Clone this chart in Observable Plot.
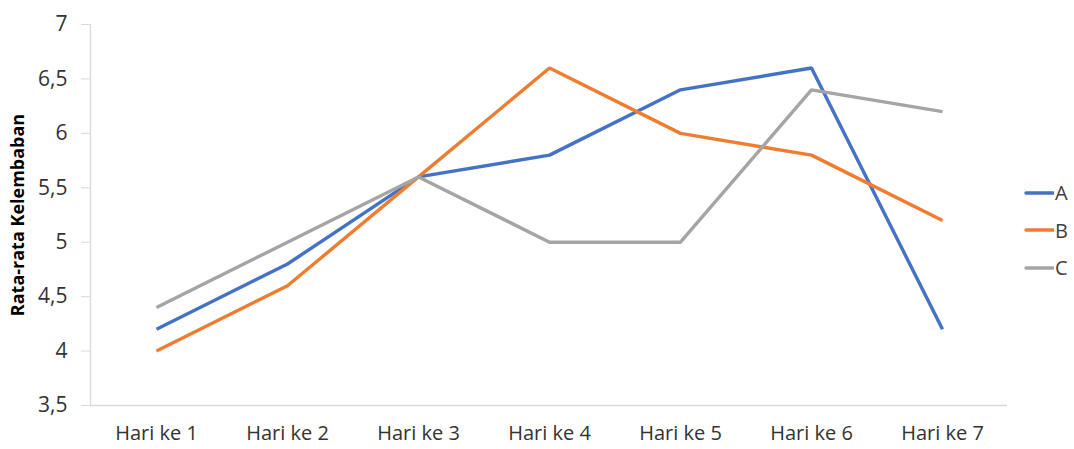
<!DOCTYPE html>
<html>
<head>
<meta charset="utf-8">
<script src="https://cdn.jsdelivr.net/npm/d3@7"></script>
<script src="https://cdn.jsdelivr.net/npm/@observablehq/plot@0.6"></script>
<style>
  body { margin: 0; background: #fff; font-family: "Open Sans", sans-serif; }
  #wrap { position: relative; width: 1074px; height: 449px; }
  #legend { position: absolute; left: 1024px; top: 174px; font-size: 20px; color: #404040; }
  #legend div { display: flex; align-items: center; height: 37.5px; }
  #legend svg { margin-right: 1px; }
</style>
</head>
<body>
<div id="wrap"><div id="chart"></div><div id="legend"></div></div>
<script>
// Average humidity per day for three treatments
const days = ["Hari ke 1", "Hari ke 2", "Hari ke 3", "Hari ke 4", "Hari ke 5", "Hari ke 6", "Hari ke 7"];
const seriesA = [4.2, 4.8, 5.6, 5.8, 6.4, 6.6, 4.2];
const seriesB = [4.0, 4.6, 5.6, 6.6, 6.0, 5.8, 5.2];
const seriesC = [4.4, 5.0, 5.6, 5.0, 5.0, 6.4, 6.2];
const seriesNames = ["A", "B", "C"];
const seriesColors = ["#4472C4", "#ED7D31", "#A5A5A5"];
const yTicks = [3.5, 4, 4.5, 5, 5.5, 6, 6.5, 7];

const rows = [];
[seriesA, seriesB, seriesC].forEach((vals, i) => {
  vals.forEach((v, j) => rows.push({day: days[j], value: v, series: seriesNames[i]}));
});

const chart = Plot.plot({
  width: 1074,
  height: 449,
  marginLeft: 90,
  marginRight: 67,
  marginTop: 24,
  marginBottom: 44,
  style: {fontFamily: "Open Sans, sans-serif", fontSize: "20px", color: "#333", background: "#fff"},
  x: {type: "point", domain: days, padding: 0.5},
  y: {domain: [3.5, 7]},
  color: {domain: seriesNames, range: seriesColors},
  marks: [
    Plot.frame({anchor: "left", stroke: "#d9d9d9", strokeWidth: 1.3}),
    Plot.ruleY([3.5], {stroke: "#d9d9d9", strokeWidth: 1.3}),
    Plot.axisY({
      ticks: yTicks,
      tickSize: 9,
      tickPadding: 14,
      stroke: "#d9d9d9",
      fontSize: 21,
      tickFormat: d => String(d).replace(".", ","),
      label: null
    }),
    Plot.text(["Rata-rata Kelembaban"], {
      frameAnchor: "left",
      textAnchor: "middle",
      dx: -72,
      rotate: -90,
      fontWeight: "bold",
      fontSize: 18,
      fill: "#000"
    }),
    Plot.axisX({tickSize: 0, tickPadding: 20, fontSize: 20, label: null}),
    Plot.line(rows, {x: "day", y: "value", stroke: "series", strokeWidth: 3.4, strokeLinejoin: "miter", strokeLinecap: "butt"})
  ]
});
document.getElementById("chart").append(chart);

// Legend
const legend = document.getElementById("legend");
seriesNames.forEach((name, i) => {
  const row = document.createElement("div");
  row.innerHTML = `<svg width="30" height="6"><line x1="2" y1="3" x2="29" y2="3" stroke="${seriesColors[i]}" stroke-width="3.5" stroke-linecap="round"/></svg><span>${name}</span>`;
  legend.append(row);
});
</script>
</body>
</html>
